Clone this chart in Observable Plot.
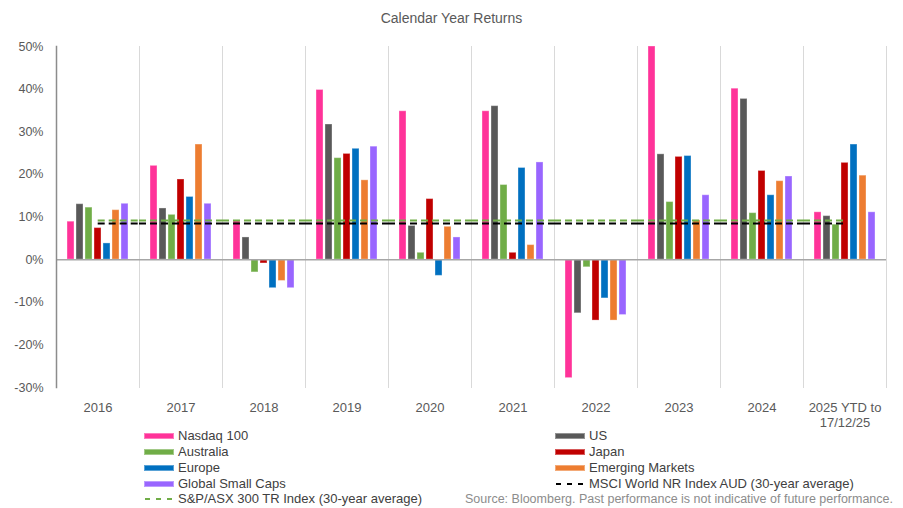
<!DOCTYPE html>
<html><head><meta charset="utf-8">
<script src="https://cdn.jsdelivr.net/npm/d3@7"></script>
<script src="https://cdn.jsdelivr.net/npm/@observablehq/plot@0.6"></script>
<style>
body{margin:0;background:#fff;font-family:"Liberation Sans",Arial,sans-serif;}
#wrap{position:relative;width:903px;height:508px;overflow:hidden;}
#title{height:36px;line-height:37px;text-align:center;font-size:14px;color:#595959;}
#legend{position:absolute;left:0;top:0;width:903px;height:508px;pointer-events:none;}
.item{position:absolute;font-size:13px;color:#404040;white-space:nowrap;line-height:16px;height:16px;}
.sw{position:absolute;top:5px;width:30px;height:6px;}
.src{position:absolute;font-size:12.5px;color:#8c8c8c;white-space:nowrap;line-height:16px;}
</style>
</head><body>
<div id="wrap">
  <div id="title">Calendar Year Returns</div>
  <div id="chart"></div>
  <div id="legend"></div>
</div>
<script>
const years = ["2016","2017","2018","2019","2020","2021","2022","2023","2024","2025 YTD to\n17/12/25"];
const series = ["Nasdaq 100","US","Australia","Japan","Europe","Emerging Markets","Global Small Caps"];
const colors = ["#FF3399","#595959","#70AD47","#C00000","#0070C0","#ED7D31","#9966FF"];

const nasdaq100 = [8.9, 22.0, 9.1, 39.8, 34.8, 34.8, -27.8, 50.0, 40.1, 11.1];
const us        = [13.0, 12.0, 5.2, 31.7, 7.9, 36.0, -12.6, 24.7, 37.7, 10.2];
const australia = [12.2, 10.5, -3.0, 23.8, 1.6, 17.5, -1.8, 13.5, 10.9, 8.2];
const japan     = [7.4, 18.8, -0.9, 24.8, 14.2, 1.6, -14.3, 24.1, 20.8, 22.7];
const europe    = [3.8, 14.7, -6.7, 26.0, -3.8, 21.5, -9.1, 24.3, 15.1, 27.0];
const emerging  = [11.6, 27.0, -5.0, 18.6, 7.7, 3.4, -14.3, 9.2, 18.4, 19.7];
const smallCaps = [13.1, 13.1, -6.7, 26.5, 5.2, 22.8, -13.0, 15.1, 19.5, 11.1];

const asx300Avg = 9.2;   // S&P/ASX 300 TR Index (30-year average)
const msciAvg = 8.5;     // MSCI World NR Index AUD (30-year average)
const yTicks = [-30, -20, -10, 0, 10, 20, 30, 40, 50];

const seriesValues = [nasdaq100, us, australia, japan, europe, emerging, smallCaps];
const rows = [];
years.forEach((yr, i) => series.forEach((s, j) => rows.push({year: yr, series: s, value: seriesValues[j][i]})));

const W = 903, ML = 54, MR = 15;
const halfFacet = (W - ML - MR) / years.length / 2;

const avgs = [
  {label: "S&P/ASX 300 TR Index (30-year average)", value: asx300Avg, color: "#70AD47"},
  {label: "MSCI World NR Index AUD (30-year average)", value: msciAvg, color: "#000000"}
];
const dash = "7,4";
const avgMarks = avgs.flatMap(a => [
  Plot.ruleY([years[0]], {fx: d => d, y: () => a.value, insetLeft: halfFacet, stroke: a.color, strokeWidth: 2, strokeDasharray: dash}),
  Plot.ruleY(years.slice(1, -1), {fx: d => d, y: () => a.value, stroke: a.color, strokeWidth: 2, strokeDasharray: dash}),
  Plot.ruleY([years[years.length - 1]], {fx: d => d, y: () => a.value, insetRight: halfFacet, stroke: a.color, strokeWidth: 2, strokeDasharray: dash})
]);

const chart = Plot.plot({
  width: W, height: 410,
  marginTop: 10, marginBottom: 59, marginLeft: ML, marginRight: MR,
  style: {color: "#595959", fontFamily: "'Liberation Sans', Arial, sans-serif", background: "transparent"},
  fx: {domain: years, padding: 0, label: null},
  x: {domain: series, paddingInner: 0.25, paddingOuter: 0.92, axis: null},
  y: {domain: [-30, 50], label: null},
  color: {domain: series, range: colors},
  marks: [
    Plot.frame({anchor: "left", stroke: "#d9d9d9"}),
    Plot.frame({anchor: "right", stroke: "#d9d9d9"}),
    Plot.barY(rows, {fx: "year", x: "series", y: "value", fill: "series", stroke: "#ffffff", strokeOpacity: 0.35, strokeWidth: 1}),
    Plot.ruleY([0], {stroke: "#a6a6a6", strokeWidth: 1.5}),
    Plot.frame({anchor: "left", stroke: "#8c8c8c", strokeWidth: 1.5, facetAnchor: "left"}),
    ...avgMarks,
    Plot.axisY({ticks: yTicks, tickSize: 0, tickPadding: 13, tickFormat: d => d + "%", fontSize: 12.5, label: null}),
    Plot.axisFx({anchor: "bottom", tickSize: 0, tickPadding: 14, fontSize: 13, lineHeight: 1.15, label: null})
  ]
});
document.getElementById("chart").appendChild(chart);

// Legend
const leg = document.getElementById("legend");
const rowY = [428, 443.5, 459.5, 475.5, 491];
const leftItems = [0, 2, 4, 6];   // Nasdaq, Australia, Europe, Small Caps
const rightItems = [1, 3, 5];     // US, Japan, EM
function addSwatch(x, y, idx, label) {
  const d = document.createElement("div");
  d.className = "item"; d.style.left = x + "px"; d.style.top = y + "px";
  d.style.paddingLeft = "34px";
  const s = document.createElement("div");
  s.className = "sw"; s.style.left = "0px"; s.style.background = colors[idx];
  s.style.boxShadow = "inset 0 0 0 1px rgba(255,255,255,0.35)";
  d.appendChild(s);
  d.appendChild(document.createTextNode(label));
  leg.appendChild(d);
}
function addDash(x, y, a) {
  const d = document.createElement("div");
  d.className = "item"; d.style.left = x + "px"; d.style.top = y + "px";
  d.style.paddingLeft = "34px";
  d.innerHTML = `<svg width="32" height="16" style="position:absolute;left:0;top:0"><line x1="1" x2="31" y1="8" y2="8" stroke="${a.color}" stroke-width="2" stroke-dasharray="5,6"/></svg>`;
  d.appendChild(document.createTextNode(a.label));
  leg.appendChild(d);
}
leftItems.forEach((idx, r) => addSwatch(144, rowY[r], idx, series[idx]));
rightItems.forEach((idx, r) => addSwatch(555, rowY[r], idx, series[idx]));
addDash(144, rowY[4], avgs[0]);
addDash(555, rowY[3], avgs[1]);
const src = document.createElement("div");
src.className = "src"; src.style.right = "10px"; src.style.top = (rowY[4]) + "px";
src.textContent = "Source: Bloomberg. Past performance is not indicative of future performance.";
leg.appendChild(src);
</script>
</body></html>
